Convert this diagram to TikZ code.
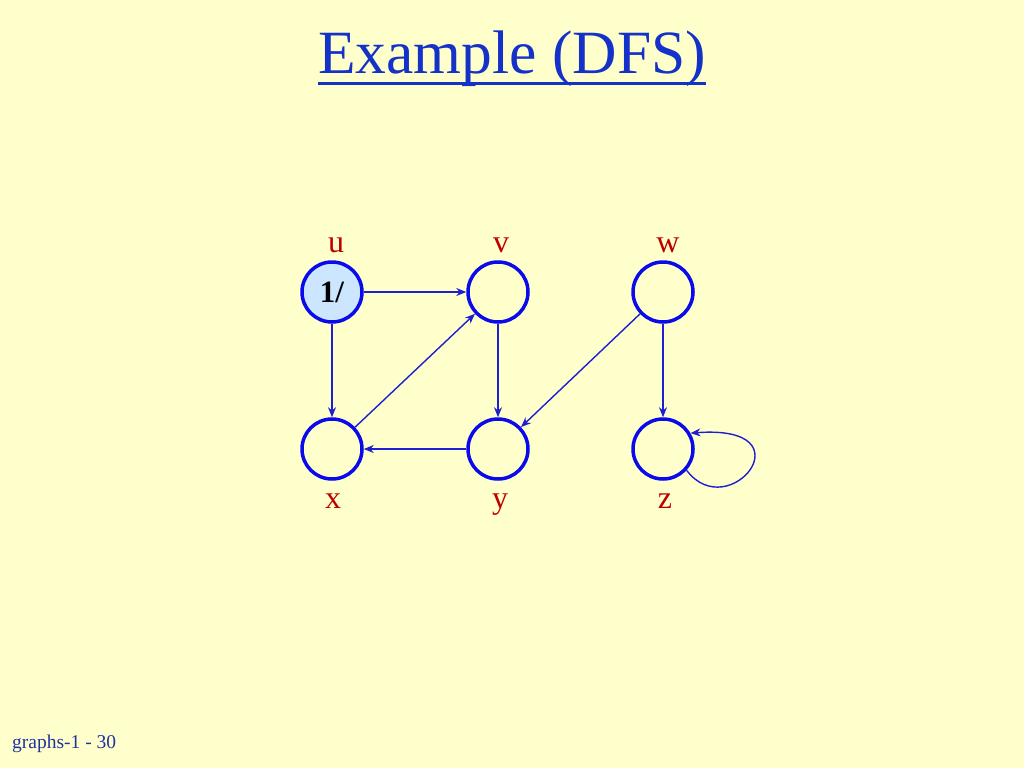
\documentclass[tikz,border=0pt]{standalone}
\usepackage{fontspec}
\setmainfont{Liberation Serif}
\usetikzlibrary{arrows.meta}

\definecolor{slidebg}{RGB}{255,255,204}
\definecolor{titleblue}{RGB}{20,50,200}
\definecolor{vertexblue}{RGB}{10,10,235}
\definecolor{edgeblue}{RGB}{30,30,210}
\definecolor{labelred}{RGB}{190,0,0}
\definecolor{grayfill}{RGB}{204,230,255}
\definecolor{footblue}{RGB}{30,50,160}

\tikzset{
  vertex/.style={circle,draw=vertexblue,line width=3.5pt,minimum size=60pt,inner sep=0pt},
  edge/.style={draw=edgeblue,line width=1.4pt,-{Stealth[length=10pt,width=8pt]}},
  vlabel/.style={text=labelred,font=\fontsize{32}{36}\selectfont,anchor=base,inner sep=0pt}
}

\begin{document}
\begin{tikzpicture}[x=1pt,y=-1pt]
    \fill[slidebg] (0,0) rectangle (1024,768);
    \useasboundingbox (0,0) rectangle (1024,768);
    % title
    \node[anchor=base,inner sep=0pt,text=titleblue,font=\fontsize{61.5}{66}\selectfont] (title) at (512,73) {Example (DFS)};
    \draw[titleblue,line width=3pt] ([yshift=-10pt]title.base west) -- ([yshift=-10pt]title.base east);
    % vertices
    \node[vertex,fill=grayfill,font=\fontsize{31}{36}\selectfont\bfseries] (u) at (332,292) {1/};
    \node[vertex] (v) at (498,292) {};
    \node[vertex] (w) at (663,292) {};
    \node[vertex] (x) at (332,449) {};
    \node[vertex] (y) at (498,449) {};
    \node[vertex] (z) at (663,449) {};
    \node[vlabel] (lu) at (336,252) {u};
    \node[vlabel] (lv) at (501,252) {v};
    \node[vlabel] (lw) at (668,252) {w};
    \node[vlabel] (lx) at (333,508) {x};
    \node[vlabel] (ly) at (500,508) {y};
    \node[vlabel] (lz) at (665,508) {z};
    % edges
    \draw[edge] (u) -- (v);
    \draw[edge] (u) -- (x);
    \draw[edge] (x) -- (v);
    \draw[edge] (v) -- (y);
    \draw[edge] (w) -- (y);
    \draw[edge] (y) -- (x);
    \draw[edge] (w) -- (z);
    \draw[edge] (z.-42) .. controls +(42,56) and +(121,-9) .. (z.30);
    % footer
    \node[anchor=base west,inner sep=0pt,text=footblue,font=\fontsize{19.5}{22}\selectfont] (foot) at (12,748) {graphs-1 - 30};
\end{tikzpicture}
\end{document}
